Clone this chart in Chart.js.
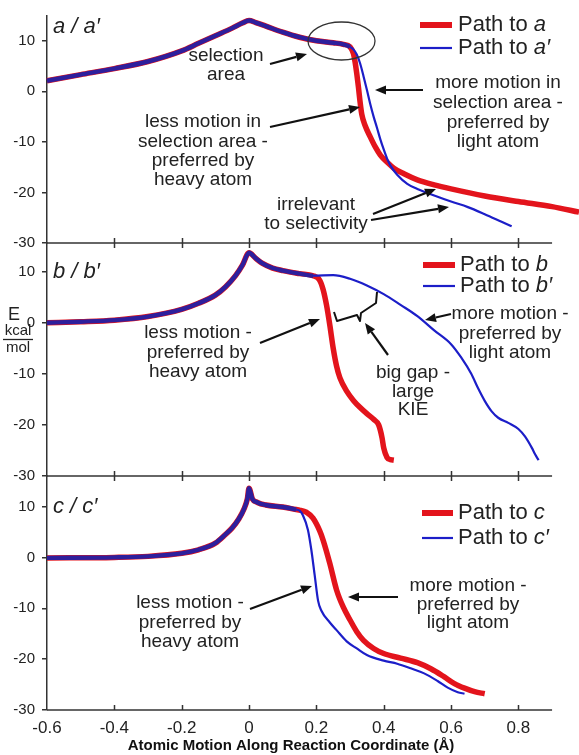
<!DOCTYPE html>
<html>
<head>
<meta charset="utf-8">
<script src="https://cdn.jsdelivr.net/npm/chart.js@4.4.0/dist/chart.umd.min.js"></script>
<style>
  html, body { margin: 0; padding: 0; background: #fff; }
  #wrap { position: relative; width: 579px; height: 755px; }
  #wrap canvas { position: absolute; left: 0; top: 0; }
</style>
</head>
<body>
<div id="wrap">
  <canvas id="chartA" width="579" height="755"></canvas>
  <canvas id="chartB" width="579" height="755"></canvas>
  <canvas id="chartC" width="579" height="755"></canvas>
</div>
<script>
const xTicks = [-0.6, -0.4, -0.2, 0, 0.2, 0.4, 0.6, 0.8];
const xTickLabels = ['-0.6', '-0.4', '-0.2', '0', '0.2', '0.4', '0.6', '0.8'];
const xAxisEnd = 0.9;   // the drawn axis line stops here, the a-path runs on past it
const yTicks = [-30, -20, -10, 0, 10];
const yTickLabels = ['-30', '-20', '-10', '0', '10'];

// panel a / a' : part shared by both paths, then each path's own tail
const xCommonA = [-0.6, -0.5, -0.4, -0.3, -0.2, -0.15, -0.1, -0.05, -0.02, 0, 0.02, 0.05, 0.1, 0.15, 0.2, 0.25, 0.28, 0.30];
const eCommonA = [2.1, 3.3, 4.5, 5.9, 8.0, 9.5, 11.0, 12.5, 13.5, 14.0, 13.6, 12.9, 11.7, 10.7, 10.0, 9.6, 9.3, 8.8];
const xRedA = [0.31, 0.315, 0.32, 0.325, 0.33, 0.335, 0.345, 0.36, 0.375, 0.39, 0.41, 0.43, 0.46, 0.5, 0.55, 0.6, 0.7, 0.8, 0.9, 0.98];
const eRedA = [7.5, 5.8, 3.5, 0.8, -2.2, -4.6, -6.8, -9.0, -11.0, -12.6, -14.0, -15.2, -16.3, -17.5, -18.5, -19.3, -20.7, -21.8, -22.8, -23.9];
const xBlueA = [0.31, 0.32, 0.33, 0.34, 0.35, 0.36, 0.37, 0.38, 0.39, 0.40, 0.41, 0.42, 0.44, 0.47, 0.5, 0.55, 0.6, 0.65, 0.7, 0.75, 0.78];
const eBlueA = [8.3, 7.3, 5.5, 3.0, 0.3, -2.5, -5.0, -7.2, -9.5, -11.5, -13.3, -14.7, -16.5, -18.3, -19.3, -20.6, -21.8, -22.9, -24.3, -25.8, -26.7];

// panel b / b'
const xCommonB = [-0.6, -0.5, -0.4, -0.3, -0.2, -0.15, -0.1, -0.07, -0.04, -0.02, 0, 0.02, 0.04, 0.07, 0.1, 0.15, 0.19];
const eCommonB = [0, 0.2, 0.5, 1.2, 2.6, 3.8, 5.4, 7.0, 9.2, 11.2, 13.7, 12.6, 11.6, 10.7, 10.2, 9.6, 9.2];
const xRedB = [0.21, 0.22, 0.23, 0.24, 0.25, 0.26, 0.27, 0.29, 0.31, 0.33, 0.35, 0.37, 0.385, 0.395, 0.40, 0.41, 0.42, 0.43];
const eRedB = [8.3, 6.5, 3.5, -0.5, -5.0, -8.5, -10.8, -13.4, -15.2, -16.6, -17.8, -18.9, -20.0, -22.5, -24.5, -26.4, -26.8, -26.9];
const xBlueB = [0.25, 0.3, 0.35, 0.4, 0.45, 0.5, 0.55, 0.6, 0.63, 0.66, 0.68, 0.70, 0.72, 0.74, 0.77, 0.80, 0.82, 0.84, 0.85, 0.86];
const eBlueB = [9.3, 8.6, 7.3, 5.6, 3.5, 1.3, -1.5, -4.2, -6.8, -10.0, -12.8, -15.3, -17.3, -18.6, -19.6, -20.8, -22.3, -24.5, -25.8, -26.9];

// panel c / c'
const xCommonC = [-0.6, -0.4, -0.3, -0.2, -0.15, -0.1, -0.07, -0.05, -0.03, -0.015, -0.005, 0, 0.01, 0.025, 0.05, 0.1, 0.14];
const eCommonC = [-0.1, 0, 0.2, 0.8, 1.5, 2.8, 4.5, 5.8, 7.6, 9.5, 11.5, 13.6, 11.5, 10.8, 10.3, 9.9, 9.4];
const xRedC = [0.15, 0.17, 0.19, 0.21, 0.22, 0.24, 0.26, 0.28, 0.30, 0.32, 0.34, 0.37, 0.40, 0.45, 0.50, 0.54, 0.58, 0.61, 0.64, 0.67, 0.70];
const eRedC = [9.3, 8.9, 7.7, 5.2, 3.4, -1.2, -6.4, -9.8, -12.3, -14.6, -16.3, -17.9, -18.9, -19.8, -20.7, -21.9, -23.5, -24.8, -25.7, -26.4, -26.8];
const xBlueC = [0.15, 0.16, 0.175, 0.185, 0.195, 0.205, 0.215, 0.24, 0.26, 0.29, 0.32, 0.35, 0.40, 0.44, 0.48, 0.52, 0.56, 0.59, 0.62, 0.64];
const eBlueC = [9.2, 8.3, 5.4, 1.5, -3.5, -8.5, -10.5, -12.8, -14.3, -16.5, -17.9, -19.2, -20.3, -20.9, -21.8, -22.8, -24.3, -25.6, -26.5, -26.8];

const RED = '#e3141c';
const BLUE = '#1c1ec8';
const MIXED = '#2e1f9c';
const INK = '#222';
const AXIS = '#333';
const FONT = '"Liberation Sans", Arial, Helvetica, sans-serif';

function toPoints(xs, es) {
    return xs.map((x, i) => ({x: x, y: es[i]}));
}

function drawArrow(ctx, x1, y1, x2, y2) {
    const a = Math.atan2(y2 - y1, x2 - x1);
    const len = 11, half = 4.5;
    const bx = x2 - len * Math.cos(a), by = y2 - len * Math.sin(a);
    ctx.strokeStyle = '#111';
    ctx.fillStyle = '#111';
    ctx.lineWidth = 2.2;
    ctx.beginPath();
    ctx.moveTo(x1, y1);
    ctx.lineTo(bx, by);
    ctx.stroke();
    ctx.beginPath();
    ctx.moveTo(x2, y2);
    ctx.lineTo(bx + half * Math.sin(a), by - half * Math.cos(a));
    ctx.lineTo(bx - half * Math.sin(a), by + half * Math.cos(a));
    ctx.closePath();
    ctx.fill();
}

function drawBlock(ctx, b) {
    ctx.fillStyle = INK;
    ctx.font = '19px ' + FONT;
    ctx.textAlign = 'center';
    ctx.textBaseline = 'middle';
    b.lines.forEach((s, i) => ctx.fillText(s, b.x, b.y + i * b.lh));
}

// text with a trailing italic symbol, e.g. "Path to " + "a′"
function drawMixed(ctx, plain, ital, x, y, size) {
    ctx.textAlign = 'left';
    ctx.textBaseline = 'middle';
    ctx.fillStyle = INK;
    ctx.font = size + 'px ' + FONT;
    ctx.fillText(plain, x, y);
    const w = ctx.measureText(plain).width;
    ctx.font = 'italic ' + size + 'px ' + FONT;
    ctx.fillText(ital, x + w, y);
}

function drawLegend(ctx, lg, letter) {
    ctx.lineCap = 'butt';
    ctx.strokeStyle = RED;
    ctx.lineWidth = 6;
    ctx.beginPath();
    ctx.moveTo(lg.x1, lg.y1);
    ctx.lineTo(lg.x2, lg.y1);
    ctx.stroke();
    ctx.strokeStyle = BLUE;
    ctx.lineWidth = 2.2;
    ctx.beginPath();
    ctx.moveTo(lg.x1, lg.y2);
    ctx.lineTo(lg.x2, lg.y2);
    ctx.stroke();
    drawMixed(ctx, 'Path to ', letter, lg.tx, lg.y1, 22);
    drawMixed(ctx, 'Path to ', letter + '\u2032', lg.tx, lg.y2, 22);
}

// bottom axis line (stops at xAxisEnd) and inward-pointing ticks
function drawXAxis(chart, top) {
    const ctx = chart.ctx, area = chart.chartArea, xs = chart.scales.x;
    ctx.strokeStyle = AXIS;
    ctx.lineWidth = 1.5;
    ctx.beginPath();
    ctx.moveTo(area.left, area.bottom);
    ctx.lineTo(xs.getPixelForValue(xAxisEnd), area.bottom);
    ctx.stroke();
    xTicks.forEach(v => {
        const px = Math.round(xs.getPixelForValue(v)) + 0.5;
        if (px <= area.left + 1) return;
        ctx.beginPath();
        ctx.moveTo(px, area.bottom);
        ctx.lineTo(px, area.bottom - 5);
        if (top) {
            ctx.moveTo(px, area.top);
            ctx.lineTo(px, area.top + 5);
        }
        ctx.stroke();
    });
}

function makePanel(id, cfg) {
    const deco = {
        id: 'deco' + id,
        afterDraw(chart) {
            const ctx = chart.ctx;
            ctx.save();
            drawXAxis(chart, cfg.topTicks);
            cfg.blocks.forEach(b => drawBlock(ctx, b));
            cfg.arrows.forEach(a => drawArrow(ctx, a[0], a[1], a[2], a[3]));
            drawLegend(ctx, cfg.legend, cfg.letter);
            ctx.font = 'italic 22px ' + FONT;
            ctx.fillStyle = INK;
            ctx.textAlign = 'left';
            ctx.textBaseline = 'middle';
            ctx.fillText(cfg.letter + ' / ' + cfg.letter + '\u2032', cfg.label[0], cfg.label[1]);
            if (cfg.extra) cfg.extra(ctx, chart);
            ctx.restore();
        }
    };

    return new Chart(document.getElementById(id), {
        type: 'line',
        data: {
            datasets: [
                {
                    label: 'Path to ' + cfg.letter,
                    data: cfg.red,
                    borderColor: RED,
                    borderWidth: 5.5,
                    pointRadius: 0,
                    cubicInterpolationMode: 'monotone',
                    clip: false,
                    order: 2
                },
                {
                    label: 'Path to ' + cfg.letter + '\u2032',
                    data: cfg.blue,
                    borderColor: BLUE,
                    borderWidth: 2.2,
                    pointRadius: 0,
                    cubicInterpolationMode: 'monotone',
                    clip: false,
                    order: 1,
                    segment: {
                        borderWidth: c => c.p1.parsed.x <= cfg.split ? 4.4 : 2.2,
                        borderColor: c => c.p1.parsed.x <= cfg.split ? MIXED : BLUE
                    }
                }
            ]
        },
        options: {
            responsive: false,
            animation: false,
            events: [],
            layout: {padding: {left: 0, right: 0, top: cfg.padTop, bottom: cfg.padBottom}},
            plugins: {legend: {display: false}, tooltip: {enabled: false}},
            scales: {
                x: {
                    type: 'linear',
                    min: -0.6,
                    max: 0.98,
                    afterBuildTicks: s => { s.ticks = xTicks.map(v => ({value: v})); },
                    afterFit: s => { s.height = cfg.xHeight; },
                    border: {display: false},
                    grid: {display: false, drawTicks: false},
                    ticks: {
                        display: cfg.xLabels,
                        padding: 8,
                        color: INK,
                        maxRotation: 0,
                        font: {family: FONT, size: 17},
                        callback: (v, i) => xTickLabels[i]
                    }
                },
                y: {
                    min: -30,
                    max: cfg.yMax,
                    afterBuildTicks: s => { s.ticks = yTicks.map(v => ({value: v})); },
                    afterFit: s => { s.width = 47; },
                    border: {display: true, color: AXIS, width: 1.5},
                    grid: {drawOnChartArea: false, drawTicks: true, tickLength: 5, color: AXIS, lineWidth: 1.5},
                    ticks: {
                        padding: 7,
                        color: INK,
                        font: {family: FONT, size: 15},
                        callback: (v, i) => yTickLabels[i]
                    }
                }
            }
        },
        plugins: [deco]
    });
}

makePanel('chartA', {
    letter: 'a',
    red: toPoints(xCommonA.concat(xRedA), eCommonA.concat(eRedA)),
    blue: toPoints(xCommonA.concat(xBlueA), eCommonA.concat(eBlueA)),
    split: 0.30,
    yMax: 14.9,
    padTop: 13,
    padBottom: 512,
    xHeight: 0,
    xLabels: false,
    topTicks: false,
    label: [53, 27],
    legend: {x1: 420, x2: 452, tx: 458, y1: 25, y2: 48},
    blocks: [
        {x: 226, y: 56, lh: 19, lines: ['selection', 'area']},
        {x: 203, y: 122, lh: 19.3, lines: ['less motion in', 'selection area -', 'preferred by', 'heavy atom']},
        {x: 498, y: 83, lh: 19.7, lines: ['more motion in', 'selection area -', 'preferred by', 'light atom']},
        {x: 316, y: 205, lh: 19, lines: ['irrelevant', 'to selectivity']}
    ],
    arrows: [[270, 64, 307, 54], [270, 127, 360, 107], [423, 90, 375, 90], [373, 214, 436, 189], [371, 220, 449, 207]],
    extra: (ctx) => {
        ctx.strokeStyle = AXIS;
        ctx.lineWidth = 1.3;
        ctx.beginPath();
        ctx.ellipse(341.5, 41, 33.5, 19, 0, 0, Math.PI * 2);
        ctx.stroke();
    }
});

makePanel('chartB', {
    letter: 'b',
    red: toPoints(xCommonB.concat(xRedB), eCommonB.concat(eRedB)),
    blue: toPoints(xCommonB.concat(xBlueB), eCommonB.concat(eBlueB)),
    split: 0.19,
    yMax: 15.6,
    padTop: 243,
    padBottom: 279,
    xHeight: 0,
    xLabels: false,
    topTicks: true,
    label: [53, 272],
    legend: {x1: 423, x2: 455, tx: 460, y1: 265, y2: 286},
    blocks: [
        {x: 198, y: 333, lh: 19.5, lines: ['less motion -', 'preferred by', 'heavy atom']},
        {x: 413, y: 373, lh: 18.5, lines: ['big gap -', 'large', 'KIE']},
        {x: 510, y: 314, lh: 19.5, lines: ['more motion -', 'preferred by', 'light atom']}
    ],
    arrows: [[260, 343, 320, 319], [388, 355, 365, 323], [451, 314, 425, 320]],
    extra: (ctx) => {
        // brace marking the gap between the two paths
        ctx.strokeStyle = '#111';
        ctx.lineWidth = 2;
        ctx.lineJoin = 'round';
        ctx.beginPath();
        ctx.moveTo(334, 312);
        ctx.lineTo(337, 321);
        ctx.lineTo(357, 315);
        ctx.lineTo(360, 321);
        ctx.lineTo(361, 313);
        ctx.lineTo(376, 303);
        ctx.lineTo(377, 292);
        ctx.stroke();
        // axis title E / kcal / mol
        ctx.fillStyle = INK;
        ctx.textAlign = 'center';
        ctx.textBaseline = 'middle';
        ctx.font = '18px ' + FONT;
        ctx.fillText('E', 14, 315);
        ctx.font = '15px ' + FONT;
        ctx.fillText('kcal', 18, 331);
        ctx.fillText('mol', 18, 348);
        ctx.strokeStyle = INK;
        ctx.lineWidth = 1.3;
        ctx.beginPath();
        ctx.moveTo(3, 339.5);
        ctx.lineTo(33, 339.5);
        ctx.stroke();
    }
});

makePanel('chartC', {
    letter: 'c',
    red: toPoints(xCommonC.concat(xRedC), eCommonC.concat(eRedC)),
    blue: toPoints(xCommonC.concat(xBlueC), eCommonC.concat(eBlueC)),
    split: 0.14,
    yMax: 16.0,
    padTop: 476,
    padBottom: 0,
    xHeight: 45,
    xLabels: true,
    topTicks: true,
    label: [53, 507],
    legend: {x1: 422, x2: 453, tx: 458, y1: 513, y2: 538},
    blocks: [
        {x: 190, y: 603, lh: 19.5, lines: ['less motion -', 'preferred by', 'heavy atom']},
        {x: 468, y: 586, lh: 18.5, lines: ['more motion -', 'preferred by', 'light atom']}
    ],
    arrows: [[250, 609, 312, 586], [398, 597, 348, 597]],
    extra: (ctx) => {
        ctx.fillStyle = '#111';
        ctx.textAlign = 'center';
        ctx.textBaseline = 'middle';
        ctx.font = 'bold 15px ' + FONT;
        ctx.fillText('Atomic Motion Along Reaction Coordinate (\u00C5)', 291, 746);
    }
});
</script>
</body>
</html>
